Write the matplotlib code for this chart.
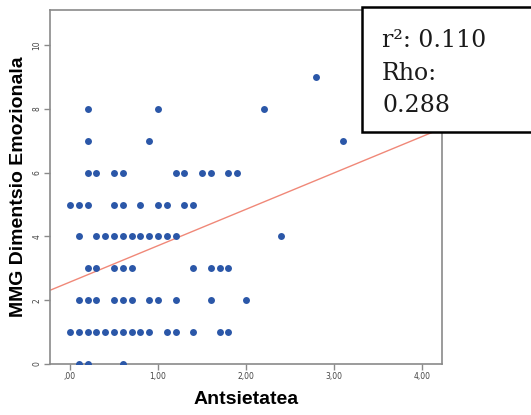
import matplotlib.pyplot as plt
from matplotlib.patches import Rectangle

# puntuak, errenkadaka (y balioa berdina)
antsietatea = [0.2, 1.0, 2.2,            # 8
               2.8,                      # 9
               3.1, 0.2, 0.9,            # 7
               0.2, 0.3, 0.5, 0.6, 1.2, 1.3, 1.5, 1.6, 1.8, 1.9,   # 6
               0.0, 0.1, 0.2, 0.5, 0.6, 0.8, 1.0, 1.1, 1.3, 1.4,   # 5
               0.1, 0.3, 0.4, 0.5, 0.6, 0.7, 0.8, 0.9, 1.0, 1.1, 1.2, 2.4,   # 4
               0.2, 0.3, 0.5, 0.6, 0.7, 1.4, 1.6, 1.7, 1.8,   # 3
               0.1, 0.2, 0.3, 0.5, 0.6, 0.7, 0.9, 1.0, 1.2, 1.6, 2.0,   # 2
               0.0, 0.1, 0.2, 0.3, 0.4, 0.5, 0.6, 0.7, 0.8, 0.9, 1.1, 1.2, 1.4, 1.7, 1.8,   # 1
               0.1, 0.2, 0.6]            # 0
emozionala = [8, 8, 8,
              9,
              7, 7, 7,
              6, 6, 6, 6, 6, 6, 6, 6, 6, 6,
              5, 5, 5, 5, 5, 5, 5, 5, 5, 5,
              4, 4, 4, 4, 4, 4, 4, 4, 4, 4, 4, 4,
              3, 3, 3, 3, 3, 3, 3, 3, 3,
              2, 2, 2, 2, 2, 2, 2, 2, 2, 2, 2,
              1, 1, 1, 1, 1, 1, 1, 1, 1, 1, 1, 1, 1, 1, 1,
              0, 0, 0]

# erregresio lerroa
ebakidura = 2.57
malda = 1.14

xticks = [0, 1, 2, 3, 4]
xticklabels = [",00", "1,00", "2,00", "3,00", "4,00"]
yticks = [0, 2, 4, 6, 8, 10]
stats = ["r\u00b2: 0.110", "Rho:", "0.288"]

fig = plt.figure(figsize=(5.31, 4.15), dpi=100)
ax = fig.add_axes([0.0942, 0.1229, 0.738, 0.853])

xlim = (-0.227, 4.227)
ax.set_xlim(xlim)
ax.set_ylim(0, 11.1)

ax.scatter(antsietatea, emozionala, s=25, color='#2b57a8', zorder=3, linewidths=0)
ax.plot(xlim, [ebakidura + malda * x for x in xlim], color='#f08878', lw=1.0, zorder=2)

for s in ax.spines.values():
    s.set_color('#8a8a8a')
    s.set_linewidth(1.2)

ax.set_xticks(xticks)
ax.set_xticklabels(xticklabels)
ax.set_yticks(yticks)
ax.set_yticklabels([str(v) for v in yticks], rotation=90, va='center')
ax.tick_params(axis='both', direction='out', length=4, width=1, color='#8a8a8a',
               labelsize=5.5, labelcolor='#444444', pad=2)

ax.set_xlabel("Antsietatea", fontsize=14, fontweight='bold', family='Liberation Sans')
ax.xaxis.set_label_coords(0.5, -0.075)
ax.set_ylabel("MMG Dimentsio Emozionala", fontsize=14, fontweight='bold', family='Liberation Sans')
ax.yaxis.set_label_coords(-0.06, 0.5)

# testu kutxa
fig.patches.append(Rectangle((0.6817, 0.682), 0.6, 0.301, transform=fig.transFigure,
                             facecolor='white', edgecolor='black', lw=1.8, zorder=5))
for txt, yy in zip(stats, [0.8867, 0.807, 0.730]):
    fig.text(0.7194, yy, txt, fontsize=17, family='DejaVu Serif', color='#1a1a1a',
             va='baseline', ha='left', zorder=6)

fig.savefig("out.png", dpi=100)
